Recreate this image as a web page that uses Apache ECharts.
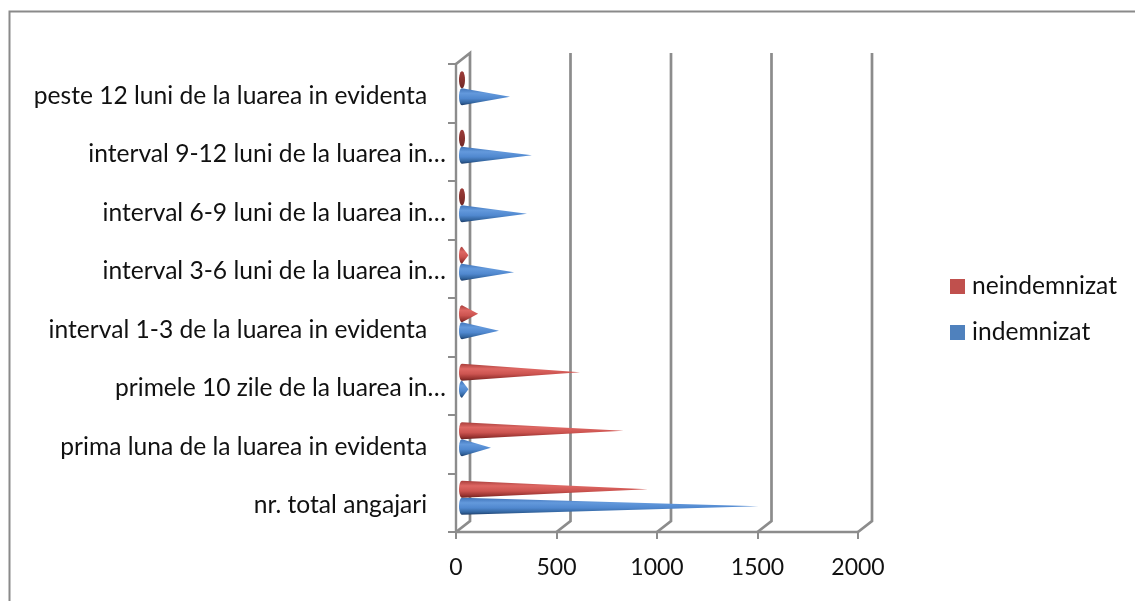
<!DOCTYPE html>
<html><head><meta charset="utf-8">
<style>html,body{margin:0;padding:0;background:#fff}#c{width:1135px;height:601px}</style>
<script src="https://cdn.jsdelivr.net/npm/echarts@6/dist/echarts.min.js"></script>
</head><body><div id="c"></div>
<script>
const categories = [
  'nr. total angajari\u00a0\u00a0\u00a0',
  'prima luna de la luarea in evidenta\u00a0\u00a0\u00a0',
  'primele 10 zile de la luarea in…',
  'interval 1-3 de la luarea in evidenta\u00a0\u00a0\u00a0',
  'interval 3-6 luni de la luarea in…',
  'interval 6-9 luni de la luarea in…',
  'interval 9-12 luni de la luarea in…',
  'peste 12 luni de la luarea in evidenta\u00a0\u00a0\u00a0'
];
const indemnizat   = [1475, 144, 32, 184, 259, 323, 348, 239];
const neindemnizat = [ 925, 804, 587, 80, 32, 15, 15, 15];
const valueTicks = [0, 500, 1000, 1500, 2000];

const GRID = '#8c8c8c', DX = 14, DY = -11;
const FONT = 'Lato, "Open Sans", sans-serif';

function grad(stops){
  return {type:'linear',x:0,y:0,x2:0,y2:1,global:false,
    colorStops:stops.map(s=>({offset:s[0],color:s[1]}))};
}
const blueGrad = grad([[0,'#3f73b8'],[0.3,'#6399dc'],[0.6,'#5088cf'],[0.85,'#33659f'],[1,'#1d3c68']]);
const redGrad  = grad([[0,'#a83e3b'],[0.3,'#de6763'],[0.6,'#cc5450'],[0.85,'#9a3431'],[1,'#6a2220']]);
const redStub  = grad([[0,'#9c3c39'],[0.5,'#8a3330'],[1,'#6e2826']]);

function coneRenderer(sign, fill, stub){
  return function(params, api){
    const cat = api.value(0), val = api.value(1);
    const base = api.coord([0, cat]);
    const tip = api.coord([val, cat]);
    const band = api.size([0, 1])[1];
    const off = sign * band * 0.145;
    const cx = base[0] + 6, cy = base[1] - 5 + off;
    const ry = band * 0.146, rx = 3;
    const tipX = tip[0] + 6;
    const pts = [];
    const full = tipX <= cx + rx + 1.5;
    for (let a = 90; a <= 270; a += 15) {
      const r = a * Math.PI / 180;
      pts.push([cx + rx * Math.cos(r), cy - ry * Math.sin(r)]);
    }
    pts.reverse();
    if (full) {
      for (let a = 90; a >= -90; a -= 15) {
        const r = a * Math.PI / 180;
        pts.push([cx + rx * Math.cos(r), cy - ry * Math.sin(r)]);
      }
    } else {
      pts.push([tipX, cy]);
    }
    return {type:'polygon', shape:{points:pts}, style:{fill: full ? stub : fill}};
  };
}

function wallRenderer(params, api){
  const v = api.value(0);
  const band = api.size([0, 1])[1];
  const lo = api.coord([v, 0]);
  const hi = api.coord([v, categories.length - 1]);
  const bottom = lo[1] + band / 2, top = hi[1] - band / 2;
  const pts = [[lo[0], bottom], [lo[0] + DX, bottom + DY], [lo[0] + DX, top + DY]];
  if (v === 0) pts.push([lo[0], top]);
  return {type:'polyline', shape:{points:pts},
    style:{stroke:GRID, lineWidth:2.7, fill:null}};
}

const option = {
  animation:false,
  backgroundColor:'#fff',
  textStyle:{fontFamily:FONT},
  graphic:[{type:'polyline',silent:true,
    shape:{points:[[9.5,601],[9.5,11.5],[1135,11.5]]},
    style:{stroke:'#8a8a8a',lineWidth:2,fill:null}}],
  grid:{left:456,top:64,width:402,height:468,containLabel:false},
  legend:{orient:'vertical',left:945,top:269,itemWidth:15,itemHeight:15,itemGap:21,
    icon:'rect',data:['neindemnizat','indemnizat'],
    textStyle:{fontSize:24.6,color:'#111',fontFamily:FONT,padding:[0,0,0,2]}},
  xAxis:{type:'value',min:0,max:2000,interval:500,
    axisLine:{show:true,onZero:false,lineStyle:{color:GRID,width:2.4}},
    axisTick:{show:true,length:7,lineStyle:{color:GRID,width:2}},
    splitLine:{show:false},
    axisLabel:{fontSize:23,color:'#111',margin:24,fontFamily:FONT,
      formatter:v=>String(v),
      hideOverlap:false,showMinLabel:true,showMaxLabel:true}},
  yAxis:{type:'category',data:categories,
    axisLine:{show:true,lineStyle:{color:GRID,width:2.4}},
    axisTick:{show:true,length:8,alignWithLabel:false,lineStyle:{color:GRID,width:2}},
    axisLabel:{color:'#111',margin:10,interval:0,
      formatter:v=>'{a|'+v+'}',
      rich:{a:{fontSize:24.6,color:'#111',fontFamily:FONT,padding:[5,0,0,0]}}}},
  series:[
    {type:'custom',name:'wall',silent:true,z:1,renderItem:wallRenderer,
      coordinateSystem:'cartesian2d',encode:{x:0},
      data:valueTicks.map(v=>[v,0])},
    {type:'custom',name:'indemnizat',z:3,coordinateSystem:'cartesian2d',
      itemStyle:{color:'#4f81bd'},renderItem:coneRenderer(1,blueGrad,blueGrad),
      encode:{x:1,y:0},data:indemnizat.map((v,i)=>[i,v])},
    {type:'custom',name:'neindemnizat',z:4,coordinateSystem:'cartesian2d',
      itemStyle:{color:'#c0504d'},renderItem:coneRenderer(-1,redGrad,redStub),
      encode:{x:1,y:0},data:neindemnizat.map((v,i)=>[i,v])}
  ]
};
echarts.init(document.getElementById('c'),null,{renderer:'canvas'}).setOption(option);
</script></body></html>
